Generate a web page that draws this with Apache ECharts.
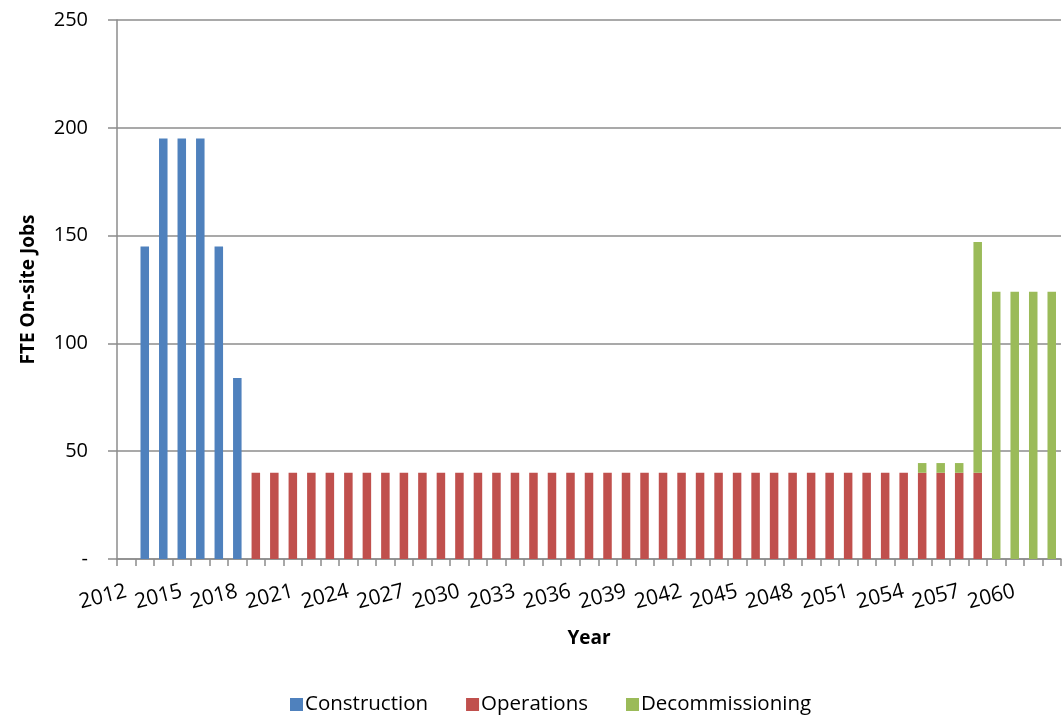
<!DOCTYPE html>
<html>
<head>
<meta charset="utf-8">
<script src="https://cdn.jsdelivr.net/npm/echarts@6/dist/echarts.min.js"></script>
<style>
  html, body { margin: 0; padding: 0; background: #ffffff; }
  #chart { width: 1062px; height: 716px; }
</style>
</head>
<body>
<div id="chart"></div>
<script>
// Years on the category axis
const years = [
  '2012','2013','2014','2015','2016','2017','2018','2019','2020','2021',
  '2022','2023','2024','2025','2026','2027','2028','2029','2030','2031',
  '2032','2033','2034','2035','2036','2037','2038','2039','2040','2041',
  '2042','2043','2044','2045','2046','2047','2048','2049','2050','2051',
  '2052','2053','2054','2055','2056','2057','2058','2059','2060','2061',
  '2062'
];

// FTE on-site jobs per year, by phase ('-' = no jobs in that phase)
const construction = [
  '-', 145, 195, 195, 195, 145, 84, '-', '-', '-',
  '-', '-', '-', '-', '-', '-', '-', '-', '-', '-',
  '-', '-', '-', '-', '-', '-', '-', '-', '-', '-',
  '-', '-', '-', '-', '-', '-', '-', '-', '-', '-',
  '-', '-', '-', '-', '-', '-', '-', '-', '-', '-',
  '-'
];
const operations = [
  '-', '-', '-', '-', '-', '-', '-', 40, 40, 40,
  40, 40, 40, 40, 40, 40, 40, 40, 40, 40,
  40, 40, 40, 40, 40, 40, 40, 40, 40, 40,
  40, 40, 40, 40, 40, 40, 40, 40, 40, 40,
  40, 40, 40, 40, 40, 40, 40, '-', '-', '-',
  '-'
];
const decommissioning = [
  '-', '-', '-', '-', '-', '-', '-', '-', '-', '-',
  '-', '-', '-', '-', '-', '-', '-', '-', '-', '-',
  '-', '-', '-', '-', '-', '-', '-', '-', '-', '-',
  '-', '-', '-', '-', '-', '-', '-', '-', '-', '-',
  '-', '-', '-', 4.5, 4.5, 4.5, 107, 124, 124, 124,
  124
];

// Value-axis ticks
const yTicks = { min: 0, max: 250, interval: 50 };

const FONT = '"Open Sans", "Noto Sans", sans-serif';
const AXIS_GREY = '#8c8c8c';

const chart = echarts.init(document.getElementById('chart'), null, { renderer: 'canvas' });

chart.setOption({
  animation: false,
  backgroundColor: '#ffffff',
  textStyle: { fontFamily: FONT, color: '#000000' },
  grid: { left: 117, right: 1, top: 20, bottom: 157, containLabel: false, outerBoundsMode: 'none' },
  legend: {
    top: 689,
    left: 285,
    itemWidth: 13,
    itemHeight: 13,
    itemGap: 38,
    icon: 'rect',
    textStyle: { fontFamily: FONT, fontSize: 20.5, color: '#000000', padding: [0, 0, 0, -3] },
    data: ['Construction', 'Operations', 'Decommissioning']
  },
  xAxis: {
    type: 'category',
    data: years,
    name: 'Year',
    nameLocation: 'middle',
    nameGap: 70,
    nameTextStyle: { fontFamily: FONT, fontSize: 19, fontWeight: 'bold', color: '#000000' },
    axisLine: { lineStyle: { color: AXIS_GREY, width: 1.5 } },
    axisTick: { show: true, alignWithLabel: false, interval: 0, length: 7, lineStyle: { color: AXIS_GREY, width: 1.5 } },
    axisLabel: { interval: 2, rotate: 14, margin: 32, fontFamily: FONT, fontSize: 21, color: '#000000' }
  },
  yAxis: {
    type: 'value',
    min: yTicks.min,
    max: yTicks.max,
    interval: yTicks.interval,
    name: 'FTE On-site Jobs',
    nameLocation: 'middle',
    nameGap: 79,
    nameRotate: 90,
    nameTextStyle: { fontFamily: FONT, fontSize: 19, fontWeight: 'bold', color: '#000000' },
    axisLine: { show: true, lineStyle: { color: AXIS_GREY, width: 1.5 } },
    axisTick: { show: true, length: 9, lineStyle: { color: AXIS_GREY, width: 1.5 } },
    splitLine: { show: true, lineStyle: { color: AXIS_GREY, width: 1.5 } },
    axisLabel: {
      margin: 29,
      fontFamily: FONT,
      fontSize: 20,
      color: '#000000',
      formatter: v => (v === 0 ? '-' : String(v))
    }
  },
  series: [
    { name: 'Construction', type: 'bar', stack: 'jobs', data: construction, barWidth: '46%', itemStyle: { color: '#4f81bd' } },
    { name: 'Operations', type: 'bar', stack: 'jobs', data: operations, barWidth: '46%', itemStyle: { color: '#c0504d' } },
    { name: 'Decommissioning', type: 'bar', stack: 'jobs', data: decommissioning, barWidth: '46%', itemStyle: { color: '#9bbb59' } }
  ]
});
</script>
</body>
</html>
